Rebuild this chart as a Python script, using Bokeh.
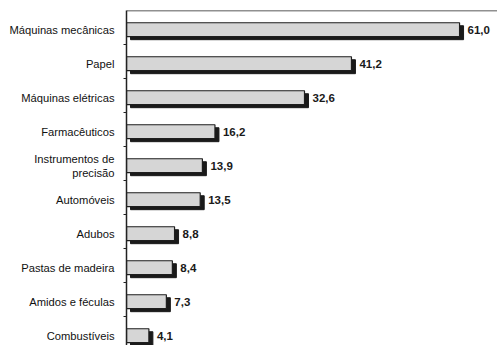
from bokeh.plotting import figure
from bokeh.models import Range1d, FixedTicker, Span, ColumnDataSource
from bokeh.core.properties import value
from bokeh.embed import file_html
from bokeh.resources import INLINE

# Categories (top to bottom) and their values
categories = [
    "Máquinas mecânicas",
    "Papel",
    "Máquinas elétricas",
    "Farmacêuticos",
    "Instrumentos de\nprecisão",
    "Automóveis",
    "Adubos",
    "Pastas de madeira",
    "Amidos e féculas",
    "Combustíveis",
]
values = [61.0, 41.2, 32.6, 16.2, 13.9, 13.5, 8.8, 8.4, 7.3, 4.1]

n = len(categories)
row_center = [i + 0.565 for i in range(n)]
labels = [f"{v:.1f}".replace(".", ",") for v in values]

# Pixel geometry helpers for the drop shadow
px_per_unit_x = 5.46
px_per_row = 34.0
shadow_dx = 4 / px_per_unit_x
shadow_dy = 3 / px_per_row

src = ColumnDataSource(dict(
    y=row_center,
    v=values,
    ys=[c + shadow_dy for c in row_center],
    ls=[shadow_dx] * n,
    rs=[v + shadow_dx for v in values],
    lab=labels,
))

W, H = 497, 345
left_pad, top_pad = 126, 10
x_max = (W - left_pad) / px_per_unit_x
y_max = (H - top_pad) / px_per_row

p = figure(width=W, height=H, output_backend="svg", toolbar_location=None,
           x_range=Range1d(0, x_max), y_range=Range1d(y_max, 0),
           min_border_left=left_pad, min_border_top=top_pad,
           min_border_bottom=0, min_border_right=0)
p.outline_line_color = None
p.grid.visible = False
p.xaxis.visible = False
p.background_fill_color = "white"
p.border_fill_color = "white"

# shadow
p.hbar(y="ys", left="ls", right="rs", height=0.41, source=src,
       fill_color="#1a1a1a", line_color="#1a1a1a", line_width=1)
# bar face
p.hbar(y="y", left=0, right="v", height=0.41, source=src,
       fill_color="#d6d6d6", line_color="#1e1e1e", line_width=1.2)

p.text(x="v", y="y", text="lab", source=src, x_offset=8,
       text_baseline="middle", text_align="left",
       text_font=value("Liberation Sans"), text_font_style="bold",
       text_font_size="11.5px", text_color="#1a1a1a")

# top rule
p.add_layout(Span(location=0, dimension="width", line_color="#222222", line_width=1.5))

ax = p.yaxis[0]
ax.ticker = FixedTicker(ticks=row_center, minor_ticks=[float(i) for i in range(1, n)])
ax.major_label_overrides = {c: t for c, t in zip(row_center, categories)}
ax.major_tick_out = 0
ax.major_tick_in = 0
ax.minor_tick_out = 3
ax.minor_tick_in = 0
ax.axis_line_color = "#222222"
ax.axis_line_width = 1.5
ax.minor_tick_line_color = "#222222"
ax.major_label_standoff = 9
ax.major_label_text_font = "Liberation Sans"
ax.major_label_text_font_size = "11.2px"
ax.major_label_text_color = "#111111"

open("out.html", "w").write(file_html(p, INLINE))
